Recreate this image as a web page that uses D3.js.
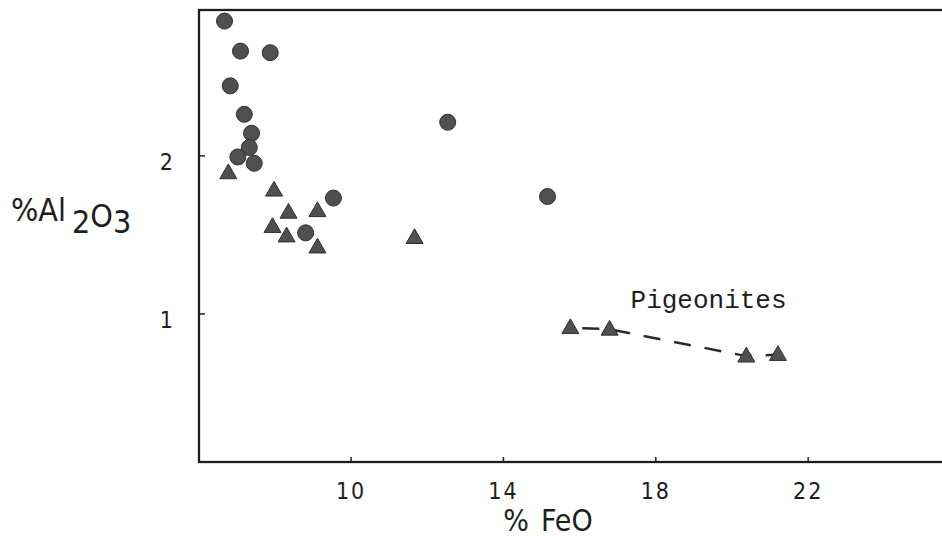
<!DOCTYPE html>
<html>
<head>
<meta charset="utf-8">
<script src="https://cdn.jsdelivr.net/npm/d3@7"></script>
<style>
  body { margin: 0; background: #fff; }
  .tick text { font-family: "DejaVu Sans Condensed", "Liberation Sans Narrow", "DejaVu Sans", sans-serif; }
</style>
</head>
<body>
<svg id="chart" width="942" height="540"></svg>
<script>
// circles (FeO %, Al2O3 %)
const circleFeO   = [6.69, 7.11, 7.89, 6.84, 7.21, 7.40, 7.34, 7.04, 7.47, 9.55, 8.82, 12.55, 15.17];
const circleAl2O3 = [2.85, 2.66, 2.65, 2.44, 2.26, 2.14, 2.05, 1.99, 1.95, 1.73, 1.51, 2.21, 1.74];

// triangles
const triangleFeO   = [6.79, 7.99, 8.37, 9.13, 7.95, 8.32, 9.13, 11.68];
const triangleAl2O3 = [1.89, 1.78, 1.64, 1.65, 1.55, 1.49, 1.42, 1.48];

// pigeonites (triangles joined by dashed line)
const pigeoniteFeO   = [15.77, 16.80, 20.39, 21.22];
const pigeoniteAl2O3 = [0.91, 0.90, 0.73, 0.74];

const xTicks = [10, 14, 18, 22];
const yTicks = [1, 2];

const svg = d3.select('#chart');
const sans = '"DejaVu Sans Condensed", "Liberation Sans Narrow", "DejaVu Sans", sans-serif';

// scales
const x = d3.scaleLinear().domain([6.02, 26]).range([199, 960]);
const y = d3.scaleLinear().domain([0.06, 2.92]).range([462, 10]);

const markFill = '#505050';
const markStroke = '#2e2e2e';
const ink = '#1e1e1e';

// frame
svg.append('rect')
    .attr('x', x.range()[0])
    .attr('y', y.range()[1])
    .attr('width', x.range()[1] - x.range()[0])
    .attr('height', y.range()[0] - y.range()[1])
    .attr('fill', 'none')
    .attr('stroke', ink)
    .attr('stroke-width', 2.3);

// x axis, ticks pointing inward
const xAxis = svg.append('g')
    .attr('transform', `translate(0,${y.range()[0]})`)
    .call(d3.axisBottom(x).tickValues(xTicks).tickSize(-5).tickPadding(21).tickFormat(d3.format('d')));
xAxis.select('.domain').remove();
xAxis.selectAll('.tick line').attr('stroke', ink).attr('stroke-width', 1.5);
xAxis.selectAll('.tick text').attr('font-size', 23).attr('fill', ink).attr('letter-spacing', 2);

// y axis
const yAxis = svg.append('g')
    .attr('transform', `translate(${x.range()[0]},0)`)
    .call(d3.axisLeft(y).tickValues(yTicks).tickSize(-6).tickPadding(26).tickFormat(d3.format('d')));
yAxis.select('.domain').remove();
yAxis.selectAll('.tick line').attr('stroke', ink).attr('stroke-width', 1.5);
yAxis.selectAll('.tick text').attr('font-size', 23).attr('fill', ink).attr('dy', '0.62em');

// axis titles
const xTitle = svg.append('text')
    .attr('x', 548)
    .attr('y', 531)
    .attr('text-anchor', 'middle')
    .attr('font-family', sans)
    .attr('font-size', 30)
    .attr('fill', ink);
xTitle.append('tspan').text('%');
xTitle.append('tspan').attr('dx', 12).text('FeO');

const yTitle = svg.append('text')
    .attr('x', 11)
    .attr('y', 221)
    .attr('font-family', sans)
    .attr('font-size', 32)
    .attr('fill', ink);
yTitle.append('tspan').text('%Al');
yTitle.append('tspan').attr('dx', 6).attr('dy', 12).text('2');
yTitle.append('tspan').attr('dy', -6).text('O');
yTitle.append('tspan').attr('dy', 6).text('3');

// dashed pigeonite line
const pigeonites = pigeoniteFeO.map((v, i) => ({ feo: v, al: pigeoniteAl2O3[i] }));
svg.append('path')
    .datum(pigeonites)
    .attr('d', d3.line().x(d => x(d.feo)).y(d => y(d.al)))
    .attr('fill', 'none')
    .attr('stroke', '#2a2a2a')
    .attr('stroke-width', 2.5)
    .attr('stroke-dasharray', '17,14')
    .attr('stroke-dashoffset', -12);

svg.append('text')
    .attr('x', x(17.35))
    .attr('y', y(1.035))
    .attr('font-family', '"Liberation Mono", "DejaVu Sans Mono", monospace')
    .attr('font-size', 26)
    .attr('fill', ink)
    .text('Pigeonites');

// circles
const circles = circleFeO.map((v, i) => ({ feo: v, al: circleAl2O3[i] }));
svg.append('g').selectAll('circle')
    .data(circles)
    .join('circle')
    .attr('cx', d => x(d.feo))
    .attr('cy', d => y(d.al))
    .attr('r', 8)
    .attr('fill', markFill)
    .attr('stroke', markStroke)
    .attr('stroke-width', 1);

// triangles
const triangles = triangleFeO.map((v, i) => ({ feo: v, al: triangleAl2O3[i] }))
    .concat(pigeonites);
const tri = d3.symbol().type(d3.symbolTriangle).size(125);
svg.append('g').selectAll('path')
    .data(triangles)
    .join('path')
    .attr('d', tri)
    .attr('transform', d => `translate(${x(d.feo)},${y(d.al) + 1})`)
    .attr('fill', markFill)
    .attr('stroke', markStroke)
    .attr('stroke-width', 1);
</script>
</body>
</html>
